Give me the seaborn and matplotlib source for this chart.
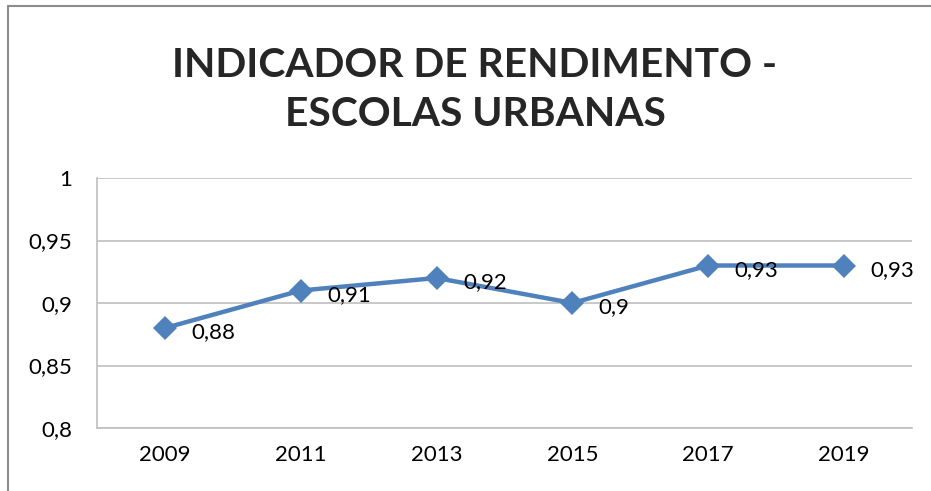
import matplotlib
matplotlib.use("Agg")
import matplotlib.pyplot as plt
import pandas as pd
import seaborn as sns
from matplotlib.lines import Line2D

# ------------------------------------------------------------------
# Data
# ------------------------------------------------------------------
anos = ["2009", "2011", "2013", "2015", "2017", "2019"]
valores = [0.88, 0.91, 0.92, 0.90, 0.93, 0.93]
y_ticks = [0.8, 0.85, 0.9, 0.95, 1.0]
y_labels = ["0,8", "0,85", "0,9", "0,95", "1"]
rotulos = ["0,88", "0,91", "0,92", "0,9", "0,93", "0,93"]
titulo = "INDICADOR DE RENDIMENTO -\nESCOLAS URBANAS"

df = pd.DataFrame({"ano": anos, "valor": valores})

# ------------------------------------------------------------------
# Style
# ------------------------------------------------------------------
sns.set_theme(style="white")
plt.rcParams["font.family"] = ["Lato", "DejaVu Sans"]

AZUL = "#4F81BD"
GRADE = "#BFBFBF"

fig = plt.figure(figsize=(9.31, 4.91), dpi=100)
ax = fig.add_axes([97 / 931, 1 - 428 / 491, (912 - 97) / 931, (428 - 178) / 491])

sns.lineplot(
    data=df, x="ano", y="valor", ax=ax,
    color=AZUL, linewidth=3.2, marker="D", markersize=12,
    markeredgecolor=AZUL, markeredgewidth=0, sort=False,
)

# data labels to the right of each point
for i, (v, txt) in enumerate(zip(valores, rotulos)):
    ax.annotate(txt, (i, v), xytext=(19, -3), textcoords="offset points",
                ha="left", va="center", fontsize=16, color="black")

ax.set_xlim(-0.5, len(anos) - 0.5)
ax.set_ylim(0.8, 1.0)
ax.set_yticks(y_ticks)
ax.set_yticklabels(y_labels)
ax.set_xlabel("")
ax.set_ylabel("")
ax.tick_params(axis="both", labelsize=16, length=0, colors="black")
ax.tick_params(axis="y", pad=18)
ax.tick_params(axis="x", pad=12)
ax.grid(axis="y", color=GRADE, linewidth=1.2)
ax.set_axisbelow(True)

for side in ["top", "right"]:
    ax.spines[side].set_visible(False)
for side in ["left", "bottom"]:
    ax.spines[side].set_color(GRADE)
    ax.spines[side].set_linewidth(1.2)

fig.text(475 / 931, 1 - 90 / 491, titulo, ha="center", va="center",
         fontsize=29.3, fontweight="bold", linespacing=1.38)

# outer chart frame (left and top edges visible)
fig.add_artist(Line2D([8 / 931, 8 / 931], [0, 1 - 6 / 491],
                      transform=fig.transFigure, color="#8C8C8C", linewidth=1.5))
fig.add_artist(Line2D([8 / 931, 1], [1 - 6 / 491, 1 - 6 / 491],
                      transform=fig.transFigure, color="#8C8C8C", linewidth=1.5))

fig.savefig("out.png", dpi=100)
